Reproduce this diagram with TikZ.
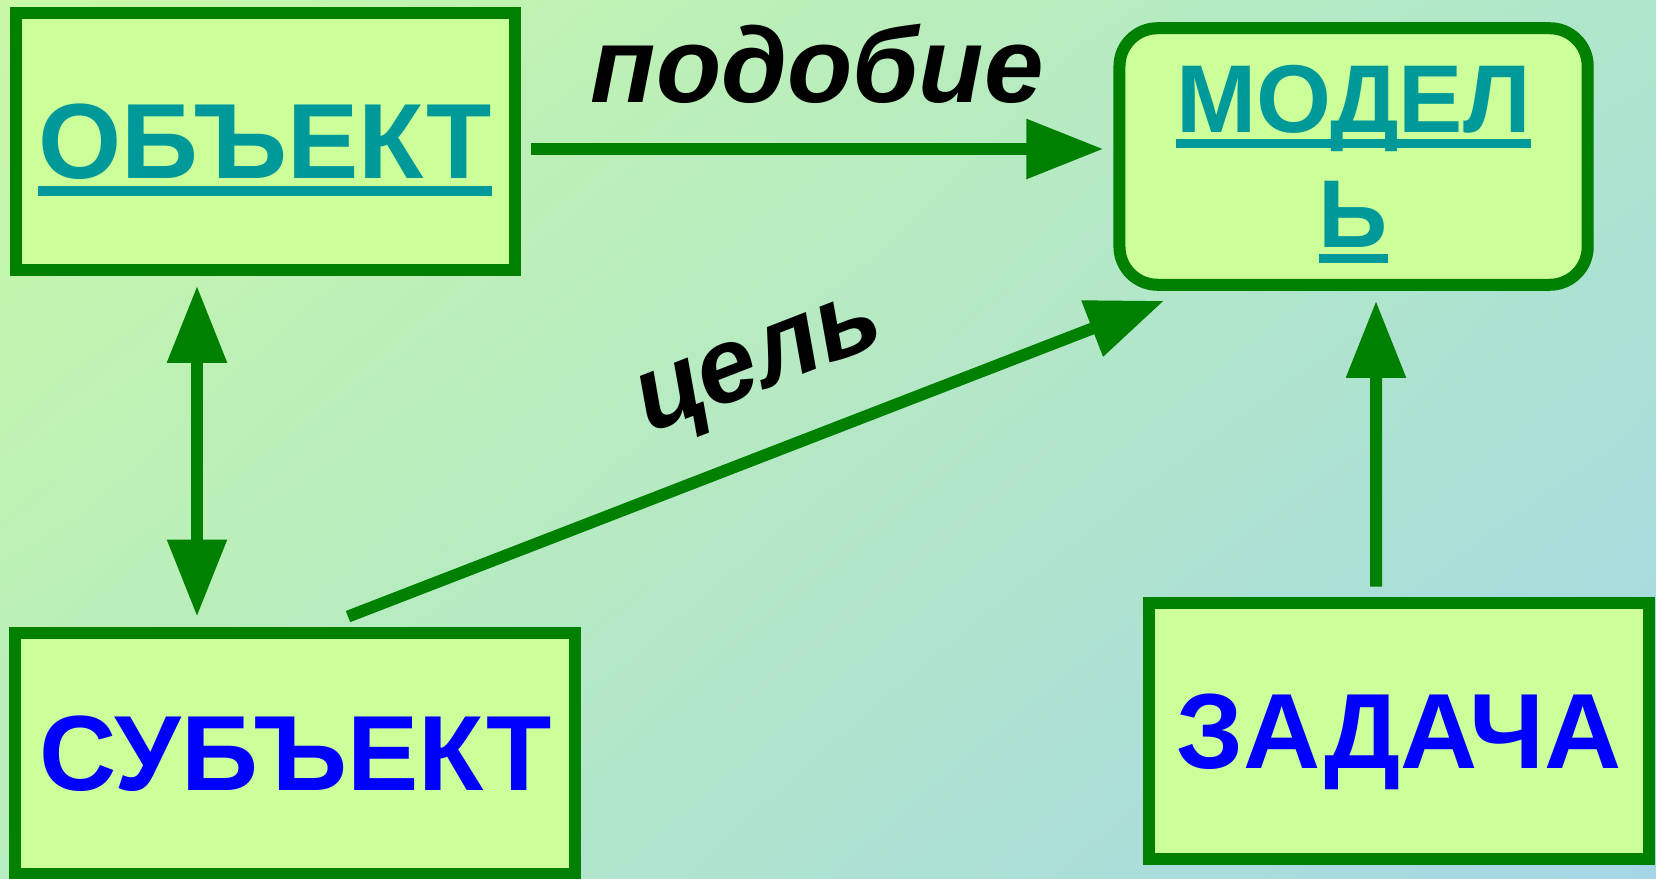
\documentclass[tikz,border=0pt]{standalone}
\usepackage{fontspec}
\setmainfont{Liberation Sans}
\usetikzlibrary{arrows.meta,calc,shadings}
\definecolor{boxfill}{HTML}{CCFF99}
\definecolor{boxline}{HTML}{008000}
\definecolor{objtext}{HTML}{009999}
\definecolor{subtext}{HTML}{0000FF}
\definecolor{bgTL}{HTML}{C8F8A6}
\definecolor{bgTR}{HTML}{AEE6CC}
\definecolor{bgBL}{HTML}{B6EDBE}
\definecolor{bgBR}{HTML}{A6D6E6}
\newcommand\ulword[1]{\setbox0\hbox{#1}\rlap{\smash{\rule[-0.158em]{\wd0}{0.088em}}}\box0}
\tikzset{
	>={Triangle[length=0.77cm,width=0.57cm]},
	block/.style={draw=boxline, fill=boxfill, line width=0.12cm, inner sep=0pt, outer sep=0.16cm, font=\fontsize{30.4}{36}\selectfont\bfseries},
	conn/.style={draw=boxline, line width=0.12cm, ->},
	lbl/.style={font=\fontsize{30.4}{36}\selectfont\bfseries\itshape, inner sep=0pt}
}

\begin{document}
\begin{tikzpicture}[x=0.01cm, y=-0.01cm]
		%%%%% START %%%%%
		\useasboundingbox (0, 0) rectangle (1656, 879);
		\shade[upper left=bgTL, upper right=bgTR, lower left=bgBL, lower right=bgBR] (0, 0) rectangle (1656, 879);
		
		\node[block, text=objtext, text depth=0pt, minimum width=4.99cm, minimum height=2.564cm] (obj) at (265.2, 141.5) {\ulword{ОБЪЕКТ}};
		\node[block, text=objtext, rounded corners=0.38cm, align=center, font=\fontsize{27.4}{32.7}\selectfont\bfseries, minimum width=4.68cm, minimum height=2.564cm] (mod) at (1353.6, 156.5) {\ulword{МОДЕЛ}\\\ulword{Ь}};
		\node[block, text=subtext, text depth=0pt, minimum width=5.594cm, minimum height=2.413cm] (sub) at (295.3, 753.3) {СУБЪЕКТ};
		\node[block, text=subtext, text depth=0pt, minimum width=5.0cm, minimum height=2.566cm] (zad) at (1399, 731) {ЗАДАЧА};
		
		\draw[conn] ($(obj.east)+(0, 7.5)$) -- ($(mod.west)+(0, -7.5)$) node[midway, lbl, above=0.39cm] (sim) {подобие};
		\draw[conn, <->] ($(obj.south)+(-68.2, 0)$) -- ($(sub.north)+(-98.3, 0)$);
		\draw[conn] ($(zad.north)+(-23, 0)$) -- ($(mod.south)+(22.4, 0)$);
		
		\coordinate (gs) at ($(sub.north)+(52.7, 0)$);
		\coordinate (ge) at ($(mod.south)+(-189.6, 0)$);
		\draw[conn] (gs) -- (ge);
		\node[lbl, rotate=21.2] (goal) at ($(gs)!0.543!(ge)!0.8cm!90:(ge)$) {цель};
		%%%%% END %%%%%
	\end{tikzpicture}
\end{document}
